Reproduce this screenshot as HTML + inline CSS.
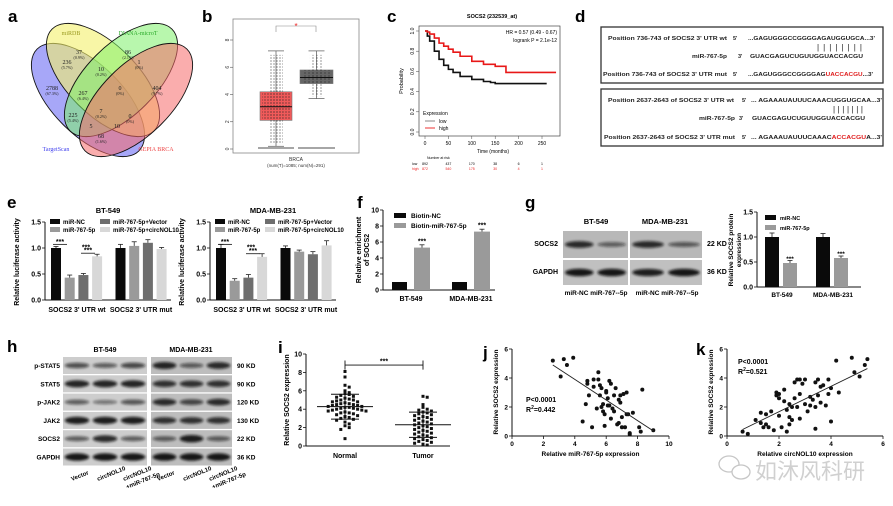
<!DOCTYPE html>
<html><head><meta charset="utf-8">
<style>
html,body{margin:0;padding:0;background:#fff;}
svg{display:block;font-family:"Liberation Sans",Arial,sans-serif;}
.b{font-weight:bold;}
</style></head>
<body>
<svg id="fig" width="893" height="506" viewBox="0 0 893 506" xmlns="http://www.w3.org/2000/svg">
<defs>
<filter id="blur1" x="-20%" y="-50%" width="140%" height="200%"><feGaussianBlur stdDeviation="1.2"/></filter>
<pattern id="dotsR" width="3" height="3" patternUnits="userSpaceOnUse"><circle cx="1" cy="1" r="0.6" fill="#222"/></pattern>
<pattern id="dotsG" width="4" height="3" patternUnits="userSpaceOnUse"><circle cx="1" cy="1" r="0.6" fill="#222"/></pattern>
</defs>
<!-- panel letters -->
<g class="b" font-size="17">
<text x="8" y="22">a</text>
<text x="202" y="22">b</text>
<text x="387" y="22">c</text>
<text x="575" y="22">d</text>
<text x="7" y="208">e</text>
<text x="357" y="208">f</text>
<text x="525" y="208">g</text>
<text x="7" y="352">h</text>
<text x="278" y="353">i</text>
<text x="483" y="358">j</text>
<text x="696" y="355">k</text>
</g>

<!-- Venn a -->
<g stroke="#111" stroke-width="0.9">
<ellipse cx="88" cy="100" rx="72" ry="35" transform="rotate(45 88 100)" fill="#8a8af5" fill-opacity="0.75"/>
<ellipse cx="103" cy="80" rx="72" ry="35" transform="rotate(45 103 80)" fill="#f4f06a" fill-opacity="0.6"/>
<ellipse cx="121" cy="80" rx="72" ry="35" transform="rotate(-45 121 80)" fill="#7df06a" fill-opacity="0.55"/>
<ellipse cx="136" cy="100" rx="72" ry="35" transform="rotate(-45 136 100)" fill="#f56a6a" fill-opacity="0.55"/>
</g>
<g font-family="Liberation Serif,serif" font-size="6" text-anchor="middle" fill="#222">
<text x="79" y="54">37</text><text x="79" y="59" font-size="4">(0.9%)</text>
<text x="128" y="54">86</text><text x="128" y="59" font-size="4">(2.1%)</text>
<text x="67" y="64">236</text><text x="67" y="69" font-size="4">(5.7%)</text>
<text x="101" y="71">10</text><text x="101" y="76" font-size="4">(0.2%)</text>
<text x="139" y="64">1</text><text x="139" y="69" font-size="4">(0%)</text>
<text x="52" y="90">2788</text><text x="52" y="95" font-size="4">(67.3%)</text>
<text x="83" y="95">267</text><text x="83" y="100" font-size="4">(6.4%)</text>
<text x="120" y="90">0</text><text x="120" y="95" font-size="4">(0%)</text>
<text x="157" y="90">404</text><text x="157" y="95" font-size="4">(9.7%)</text>
<text x="73" y="117">225</text><text x="73" y="122" font-size="4">(5.4%)</text>
<text x="101" y="113">7</text><text x="101" y="118" font-size="4">(0.2%)</text>
<text x="130" y="118">0</text><text x="130" y="123" font-size="4">(0%)</text>
<text x="91" y="128">5</text><text x="117" y="128">10</text>
<text x="101" y="138">68</text><text x="101" y="143" font-size="4">(1.6%)</text>
</g>
<g font-family="Liberation Serif,serif" font-size="6" text-anchor="middle">
<text x="71" y="35" fill="#9a9a20">miRDB</text>
<text x="138" y="35" fill="#2aaa2a">DIANA-microT</text>
<text x="56" y="151" fill="#4444ee">TargetScan</text>
<text x="156" y="151" fill="#ee4444">GEPIA BRCA</text>
</g>

<!-- panel d -->
<g font-size="5.5" class="b" fill="#222" lengthAdjust="spacingAndGlyphs">
<rect x="601" y="27" width="282" height="56" fill="none" stroke="#333" stroke-width="1.3"/>
<text x="608" y="40" textLength="119" lengthAdjust="spacingAndGlyphs">Position 736-743 of SOCS2 3' UTR wt</text>
<text x="733" y="40">5'</text>
<text x="748" y="40" textLength="127" lengthAdjust="spacingAndGlyphs">...GAGUGGGCCGGGGAGAUGGUGCA...3'</text>
<text x="817" y="50" font-size="8" font-weight="normal" textLength="45" lengthAdjust="spacing">||||||||</text>
<text x="692" y="58" textLength="35" lengthAdjust="spacingAndGlyphs">miR-767-5p</text>
<text x="738" y="58">3'</text>
<text x="750" y="58" textLength="113" lengthAdjust="spacingAndGlyphs">GUACGAGUCUGUUGGUACCACGU</text>
<text x="603" y="76" textLength="124" lengthAdjust="spacingAndGlyphs">Position 736-743 of SOCS2 3' UTR mut</text>
<text x="733" y="76">5'</text>
<text x="748" y="76" textLength="125" lengthAdjust="spacingAndGlyphs">...GAGUGGGCCGGGGAG<tspan fill="#e02020">UACCACGU</tspan>...3'</text>
<rect x="601" y="89" width="282" height="57" fill="none" stroke="#333" stroke-width="1.3"/>
<text x="608" y="102" textLength="126" lengthAdjust="spacingAndGlyphs">Position 2637-2643 of SOCS2 3' UTR wt</text>
<text x="742" y="102">5'</text>
<text x="751" y="102" textLength="131" lengthAdjust="spacingAndGlyphs">... AGAAAUAUUUCAAACUGGUGCAA...3'</text>
<text x="833" y="112" font-size="8" font-weight="normal" textLength="30" lengthAdjust="spacing">|||||||</text>
<text x="699" y="120" textLength="36" lengthAdjust="spacingAndGlyphs">miR-767-5p</text>
<text x="739" y="120">3'</text>
<text x="752" y="120" textLength="113" lengthAdjust="spacingAndGlyphs">GUACGAGUCUGUUGGUACCACGU</text>
<text x="604" y="139" textLength="131" lengthAdjust="spacingAndGlyphs">Position 2637-2643 of SOCS2 3' UTR mut</text>
<text x="742" y="139">5'</text>
<text x="751" y="139" textLength="131" lengthAdjust="spacingAndGlyphs">... AGAAAUAUUUCAAAC<tspan fill="#e02020">ACCACGU</tspan>A...3'</text>
</g>

<!-- watermark -->
<g opacity="0.55">
<ellipse cx="729" cy="464" rx="10" ry="8" fill="none" stroke="#999" stroke-width="1.3"/>
<ellipse cx="741" cy="472" rx="9" ry="7" fill="#fff" stroke="#999" stroke-width="1.3"/>
<text x="755" y="479" font-size="22" fill="#aaa" font-family="'Liberation Sans','Noto Sans CJK SC',sans-serif">如沐风科研</text>
</g>
</svg>

<script>
// ======= DATA =======
const bGroups = ["Tumor","Normal"];
const bStats = [[0.2,2.1,3.1,4.2,7.2],[3.7,4.8,5.25,5.8,7.2]];
const bTicks = [0,2,4,6,8];
const kmLowT = [0,5,10,20,30,40,50,60,75,100,125,140,150,175,200,260];
const kmLowS = [1.0,0.95,0.9,0.8,0.72,0.66,0.62,0.59,0.55,0.52,0.5,0.49,0.48,0.48,0.48,0.48];
const kmHighT = [0,5,10,20,30,40,50,60,75,100,125,150,172,173,200,280];
const kmHighS = [1.0,0.99,0.97,0.93,0.88,0.85,0.82,0.79,0.75,0.70,0.67,0.65,0.65,0.59,0.59,0.59];
const kmXTicks = [0,50,100,150,200,250];
const kmYTicks = [0.0,0.2,0.4,0.6,0.8,1.0];
const riskLow = [892,437,170,38,6,1];
const riskHigh = [872,540,175,30,4,1];
const eCats = ["SOCS2 3' UTR wt","SOCS2 3' UTR mut"];
const eSeries = ["miR-NC","miR-767-5p","miR-767-5p+Vector","miR-767-5p+circNOL10"];
const eBT = [[1.0,0.43,0.48,0.84],[1.0,1.04,1.1,0.98]];
const eBTErr = [[0.03,0.05,0.03,0.04],[0.07,0.08,0.06,0.03]];
const eMDA = [[1.0,0.37,0.43,0.83],[1.0,0.93,0.88,1.05]];
const eMDAErr = [[0.07,0.04,0.06,0.06],[0.04,0.03,0.05,0.09]];
const eTicks = [0.0,0.5,1.0,1.5];
const fCats = ["BT-549","MDA-MB-231"];
const fNC = [1.0,1.0];
const fMiR = [5.3,7.3];
const fMiRErr = [0.35,0.3];
const fTicks = [0,2,4,6,8,10];
const gCats = ["BT-549","MDA-MB-231"];
const gNC = [1.0,1.0];
const gNCErr = [0.08,0.07];
const gMiR = [0.48,0.58];
const gMiRErr = [0.05,0.04];
const gTicks = [0.0,0.5,1.0,1.5];
const hRows = ["p-STAT5","STAT5","p-JAK2","JAK2","SOCS2","GAPDH"];
const hKD = ["90 KD","90 KD","120 KD","130 KD","22 KD","36 KD"];
const hInt = [[0.6,0.5,0.65,0.9,0.5,0.85],[0.9,0.9,0.9,0.8,0.8,0.8],[0.5,0.35,0.55,0.85,0.65,0.85],[0.95,0.95,0.95,0.8,0.8,0.8],[0.5,0.85,0.5,0.5,0.95,0.5],[1,1,1,1,1,1]];
const iNormal = [8.1,7.5,6.6,6.4,6.0,5.8,5.7,5.6,5.5,5.4,5.3,5.2,5.1,5.0,5.0,4.9,4.8,4.8,4.7,4.6,4.6,4.5,4.5,4.4,4.4,4.3,4.3,4.2,4.2,4.1,4.1,4.0,4.0,3.9,3.9,3.8,3.8,3.7,3.6,3.6,3.5,3.4,3.3,3.2,3.1,3.0,2.9,2.8,2.6,2.4,2.2,2.0,1.8,0.8];
const iTumor = [5.4,5.3,4.5,4.2,4.0,3.9,3.8,3.7,3.6,3.5,3.4,3.3,3.2,3.1,3.0,2.9,2.8,2.7,2.6,2.5,2.4,2.3,2.2,2.1,2.0,1.9,1.8,1.7,1.6,1.5,1.4,1.3,1.2,1.1,1.0,0.9,0.8,0.7,0.6,0.5,0.4,0.3,0.2,0.1];
const iTicks = [0,2,4,6,8,10];
const jX = [2.6,3.1,3.3,3.5,3.9,4.5,4.7,4.8,4.8,4.9,5.1,5.2,5.2,5.4,5.5,5.5,5.6,5.6,5.7,5.7,5.8,5.8,5.9,5.9,6.0,6.0,6.1,6.1,6.2,6.2,6.3,6.3,6.4,6.5,6.5,6.6,6.7,6.8,6.8,6.9,6.9,7.0,7.0,7.1,7.2,7.3,7.3,7.4,7.5,7.5,7.7,8.1,8.3,8.2,9.0];
const jY = [5.2,4.1,5.3,4.9,5.4,1.0,2.2,3.8,3.6,2.8,0.6,3.9,3.4,1.9,4.4,3.9,3.5,2.8,3.3,2.0,1.7,2.2,1.5,0.7,3.1,3.0,2.6,2.1,3.8,2.1,1.2,3.6,1.9,2.8,1.7,3.3,0.8,2.5,0.9,2.8,2.3,1.3,0.6,2.9,0.6,1.5,3.0,1.5,0.2,0.1,1.6,0.6,3.2,0.3,0.4];
const jFit = [[2.6,4.9],[9.0,0.35]];
const jXTicks = [0,2,4,6,8,10];
const kX = [0.6,0.8,1.1,1.3,1.3,1.4,1.5,1.5,1.6,1.7,1.8,1.9,1.9,2.0,2.0,2.0,2.1,2.2,2.2,2.3,2.3,2.4,2.4,2.4,2.5,2.5,2.6,2.6,2.7,2.7,2.8,2.8,2.8,2.9,3.0,3.0,3.1,3.2,3.2,3.3,3.4,3.4,3.4,3.5,3.5,3.6,3.6,3.7,3.8,3.9,3.9,4.0,4.0,4.3,4.2,4.8,4.9,5.1,5.3,5.4];
const kY = [0.3,0.15,1.1,1.6,0.9,0.6,1.5,0.8,0.6,1.7,0.4,3.0,2.8,2.6,1.4,2.9,0.6,2.4,3.2,0.3,1.8,2.2,1.3,0.8,1.1,2.0,2.6,3.7,3.9,2.0,3.9,2.9,1.2,3.6,3.9,2.2,1.7,2.7,2.1,2.5,3.7,2.0,0.5,3.9,2.8,3.4,2.3,3.5,2.1,3.9,2.9,3.3,1.0,3.0,5.2,5.4,4.4,4.1,4.9,5.3];
const kFit = [[0.6,0.45],[5.4,4.65]];
const kXTicks = [0,2,4,6];
const sTicks = [0,2,4,6];

// ======= HELPERS =======
const NS = "http://www.w3.org/2000/svg";
const svg = document.getElementById('fig');
function mk(tag, a, parent){ const e=document.createElementNS(NS,tag); for(const k in a) e.setAttribute(k,a[k]); (parent||svg).appendChild(e); return e; }
function txt(x,y,s,a,parent){ const t=mk('text',Object.assign({x:x,y:y},a||{}),parent); t.textContent=s; return t; }
function lin(s0,s1,p0,p1){ return v=>p0+(v-s0)*(p1-p0)/(s1-s0); }

// ---- panel b ----
(function(){
  const g=mk('g',{});
  
  
  const y=lin(0,8,149,40);
  const fr=mk('rect',{x:233,y:19,width:126,height:134,fill:'none',stroke:'#888','stroke-width':0.8},g);
  
  
  bTicks.forEach(t=>{
    mk('line',{x1:230,x2:233,y1:y(t),y2:y(t),stroke:'#555','stroke-width':0.6},g);
    const l=txt(227,y(t)+2,String(t),{'font-size':5,'text-anchor':'middle',transform:`rotate(-90 227 ${y(t)})`,fill:'#333'},g);
    
    
  });
  const xs=[[260,292],[300,333]], cols=['#f05a5a','#666'];
  bStats.forEach((s,i)=>{
    const [x0,x1]=xs[i], xm=(x0+x1)/2;
    const c=mk('g',{},g);
    
    
    mk('line',{x1:xm,x2:xm,y1:y(s[4]),y2:y(s[0]),stroke:'#555','stroke-width':0.7},c);
    mk('line',{x1:xm-8,x2:xm+8,y1:y(s[4]),y2:y(s[4]),stroke:'#555','stroke-width':0.7},c);
    mk('line',{x1:xm-8,x2:xm+8,y1:y(s[0]),y2:y(s[0]),stroke:'#555','stroke-width':0.7},c);
    mk('rect',{x:x0,y:y(s[3]),width:x1-x0,height:y(s[1])-y(s[3]),fill:cols[i],stroke:'#777','stroke-width':0.6},c);
    mk('line',{x1:x0,x2:x1,y1:y(s[2]),y2:y(s[2]),stroke:'#111','stroke-width':1},c);
    mk('rect',{x:xm-7,y:y(s[4])+4,width:14,height:y(s[0])-y(s[4])-6,fill:i?'url(#dotsG)':'url(#dotsR)',opacity:0.8},c);
    mk('rect',{x:x0+2,y:y(s[3]),width:x1-x0-4,height:y(s[1])-y(s[3]),fill:i?'url(#dotsG)':'url(#dotsR)',opacity:0.9},c);
    mk('line',{x1:x0-2,x2:x1+2,y1:148,y2:148,stroke:'#888','stroke-width':1.5},c);
  });
  mk('path',{d:'M276 32 V26 H316 V32',fill:'none',stroke:'#888','stroke-width':0.6},g);
  txt(296,29,'*',{'font-size':8,fill:'#e22','text-anchor':'middle'},g);
  const xl=txt(296,161,'BRCA',{'font-size':5,'text-anchor':'middle',fill:'#333'},g);
  
  
  txt(296,167,'(num(T)=1085; num(N)=291)',{'font-size':4.5,'text-anchor':'middle',fill:'#333'},g);
})();

// ---- panel c ----
(function(){
  const g=mk('g',{});
  
  
  const x=lin(0,250,425,542), y=lin(0,1,132,31);
  const fr=mk('rect',{x:419,y:26,width:141,height:110,fill:'none',stroke:'#444','stroke-width':0.7},g);
  
  
  const t=txt(492,18,'SOCS2 (232539_at)',{'font-size':5.5,'font-weight':'bold','text-anchor':'middle'},g);
  
  
  kmYTicks.forEach(v=>{
    mk('line',{x1:416,x2:419,y1:y(v),y2:y(v),stroke:'#444','stroke-width':0.5},g);
    txt(412,y(v)+2,v.toFixed(1),{'font-size':5,'text-anchor':'middle',transform:`rotate(-90 412 ${y(v)})`},g);
  });
  kmXTicks.forEach(v=>{
    mk('line',{x1:x(v),x2:x(v),y1:136,y2:139,stroke:'#444','stroke-width':0.5},g);
    txt(x(v),145,String(v),{'font-size':5,'text-anchor':'middle'},g);
  });
  txt(493,153,'Time (months)',{'font-size':5,'text-anchor':'middle'},g);
  txt(403,81,'Probability',{'font-size':5.5,'text-anchor':'middle',transform:'rotate(-90 403 81)'},g);
  function step(T,S){ let d=`M${x(T[0])} ${y(S[0])}`; for(let i=1;i<T.length;i++){ d+=` H${x(T[i])} V${y(S[i])}`;} return d; }
  const pl=mk('path',{d:step(kmLowT,kmLowS),fill:'none',stroke:'#111','stroke-width':1.6},g);
  
  
  const ph=mk('path',{d:step(kmHighT,kmHighS),fill:'none',stroke:'#e81818','stroke-width':1.6},g);
  
  
  txt(557,34,'HR = 0.57 (0.49 - 0.67)',{'font-size':5,'text-anchor':'end'},g);
  txt(557,42,'logrank P = 2.1e-12',{'font-size':5,'text-anchor':'end'},g);
  const lg=mk('g',{},g);
  
  
  txt(423,115,'Expression',{'font-size':5},lg);
  mk('line',{x1:425,x2:435,y1:121,y2:121,stroke:'#888'},lg); txt(439,123,'low',{'font-size':5},lg);
  mk('line',{x1:425,x2:435,y1:128,y2:128,stroke:'#e33'},lg); txt(439,130,'high',{'font-size':5},lg);
  txt(427,159,'Number at risk',{'font-size':3.5},g);
  txt(412,165,'low',{'font-size':3.5},g); txt(412,170,'high',{'font-size':3.5,fill:'#e22'},g);
  kmXTicks.forEach((v,i)=>{ txt(x(v),165,String(riskLow[i]),{'font-size':3.5,'text-anchor':'middle'},g); txt(x(v),170,String(riskHigh[i]),{'font-size':3.5,'text-anchor':'middle',fill:'#e22'},g); });
})();

// ---- generic bar chart ----
const fills4=['#0a0a0a','#9a9a9a','#6e6e6e','#d8d8d8'];
function errBar(g,xc,top,errPx){ mk('line',{x1:xc,x2:xc,y1:top-errPx,y2:top,stroke:'#222','stroke-width':0.8},g); mk('line',{x1:xc-2.5,x2:xc+2.5,y1:top-errPx,y2:top-errPx,stroke:'#222','stroke-width':0.8},g); }
function yAxis(g,ax,y,ticks,fmt,x2){
  mk('line',{x1:ax,x2:ax,y1:y(ticks[ticks.length-1]),y2:y(ticks[0]),stroke:'#111','stroke-width':1},g);
  mk('line',{x1:ax,x2:x2,y1:y(ticks[0]),y2:y(ticks[0]),stroke:'#111','stroke-width':1},g);
  ticks.forEach(t=>{ mk('line',{x1:ax-3,x2:ax,y1:y(t),y2:y(t),stroke:'#111','stroke-width':0.8},g);
    const l=txt(ax-4,y(t)+2.5,fmt(t),{'font-size':7,'font-weight':'bold','text-anchor':'end'},g);
    
     });
}
function lucChart(name,ax,title,vals,errs){
  const g=mk('g',{});
  
  
  const y=lin(0,1.5,300,222);
  yAxis(g,ax,y,eTicks,t=>t.toFixed(1),ax+126);
  const tt=txt(ax+63,213,title,{'font-size':7.5,'font-weight':'bold','text-anchor':'middle'},g);
  
  
  const yl=txt(ax-26,262,'Relative luciferase activity',{'font-size':7,'font-weight':'bold','text-anchor':'middle',transform:`rotate(-90 ${ax-26} 262)`},g);
  
  
  vals.forEach((grp,gi)=>{
    grp.forEach((v,si)=>{
      const x0=ax+6+gi*64.5+si*13.7;
      const r=mk('rect',{x:x0,y:y(v),width:10,height:y(0)-y(v),fill:fills4[si]},g);
      
      
      errBar(g,x0+5,y(v),errs[gi][si]*52);
    });
    const lab=txt(ax+32+gi*64,312,eCats[gi],{'font-size':7,'font-weight':'bold','text-anchor':'middle'},g);
    
    
  });
  mk('line',{x1:ax+8,x2:ax+22,y1:y(1.07),y2:y(1.07),stroke:'#111','stroke-width':0.8},g);
  txt(ax+15,y(1.07)-0.5,'***',{'font-size':7,'font-weight':'bold','text-anchor':'middle'},g);
  txt(ax+41,y(0.97),'***',{'font-size':7,'font-weight':'bold','text-anchor':'middle'},g);
  mk('line',{x1:ax+36,x2:ax+50,y1:y(vals[0][3]+0.06),y2:y(vals[0][3]+0.06),stroke:'#111','stroke-width':0.8},g);
  txt(ax+43,y(vals[0][3]+0.06)-0.5,'***',{'font-size':7,'font-weight':'bold','text-anchor':'middle'},g);
  const lg=mk('g',{},g);
  
  
  eSeries.forEach((s,i)=>{
    const lx=ax+5+(i>1?50:0), ly=219+(i%2)*8;
    mk('rect',{x:lx,y:ly,width:10,height:5,fill:fills4[i]},lg);
    txt(lx+13,ly+5,s,{'font-size':6,'font-weight':'bold'},lg);
  });
}
lucChart('luciferase-bt549',45,'BT-549',eBT,eBTErr);
lucChart('luciferase-mda',210,'MDA-MB-231',eMDA,eMDAErr);

// ---- panel f ----
(function(){
  const g=mk('g',{});
  
  
  const y=lin(0,10,290,210), ax=383;
  yAxis(g,ax,y,fTicks,t=>String(t),ax+112);
  txt(ax-22,250,'Relative enrichment',{'font-size':7,'font-weight':'bold','text-anchor':'middle',transform:`rotate(-90 ${ax-22} 250)`},g);
  txt(ax-14,250,'of SOCS2',{'font-size':7,'font-weight':'bold','text-anchor':'middle',transform:`rotate(-90 ${ax-14} 250)`},g);
  fCats.forEach((c,i)=>{
    const gx=ax+9+i*60;
    const a=mk('rect',{x:gx,y:y(fNC[i]),width:15,height:y(0)-y(fNC[i]),fill:'#0a0a0a'},g);
    
    
    const b=mk('rect',{x:gx+22,y:y(fMiR[i]),width:16,height:y(0)-y(fMiR[i]),fill:'#9a9a9a'},g);
    
    
    errBar(g,gx+30,y(fMiR[i]),fMiRErr[i]*8);
    txt(gx+30,y(fMiR[i])-4,'***',{'font-size':7,'font-weight':'bold','text-anchor':'middle'},g);
    const l=txt(gx+19,301,c,{'font-size':7,'font-weight':'bold','text-anchor':'middle'},g);
    
    
  });
  mk('rect',{x:ax+11,y:213,width:12,height:5,fill:'#0a0a0a'},g); txt(ax+28,218,'Biotin-NC',{'font-size':6.5,'font-weight':'bold'},g);
  mk('rect',{x:ax+11,y:223,width:12,height:5,fill:'#9a9a9a'},g); txt(ax+28,228,'Biotin-miR-767-5p',{'font-size':6.5,'font-weight':'bold'},g);
})();

function blot(parent,x,yy,w,h,ints,bg){
  mk('rect',{x:x,y:yy,width:w,height:h,fill:bg||'#c4c4c4'},parent);
  const n=ints.length, lw=w/n;
  ints.forEach((v,i)=>{
    mk('ellipse',{cx:x+lw*(i+0.5),cy:yy+h/2,rx:lw*0.44,ry:1.2+2.6*v,fill:'#111','fill-opacity':0.25+0.7*v,filter:'url(#blur1)'},parent);
  });
}
// ---- panel g ----
(function(){
  const g=mk('g',{});
  
  
  txt(596,224,'BT-549',{'font-size':7.5,'font-weight':'bold','text-anchor':'middle'},g);
  txt(665,224,'MDA-MB-231',{'font-size':7.5,'font-weight':'bold','text-anchor':'middle'},g);
  blot(g,563,231,65,27,[0.85,0.45],'#b8b8b8'); blot(g,630,231,72,27,[0.85,0.5],'#b8b8b8');
  blot(g,563,260,65,25,[1,1],'#c0c0c0'); blot(g,630,260,72,25,[0.95,1],'#c0c0c0');
  txt(558,246,'SOCS2',{'font-size':7,'font-weight':'bold','text-anchor':'end'},g);
  txt(558,274,'GAPDH',{'font-size':7,'font-weight':'bold','text-anchor':'end'},g);
  txt(707,246,'22 KD',{'font-size':7,'font-weight':'bold'},g);
  txt(707,274,'36 KD',{'font-size':7,'font-weight':'bold'},g);
  txt(596,295,'miR-NC  miR-767--5p',{'font-size':6.5,'font-weight':'bold','text-anchor':'middle'},g);
  txt(667,295,'miR-NC  miR-767--5p',{'font-size':6.5,'font-weight':'bold','text-anchor':'middle'},g);
  const c=mk('g',{});
  
  
  const y=lin(0,1.5,287,212), ax=757;
  yAxis(c,ax,y,gTicks,t=>t.toFixed(1),ax+104);
  txt(ax-24,250,'Relative SOCS2 protein',{'font-size':6.5,'font-weight':'bold','text-anchor':'middle',transform:`rotate(-90 ${ax-24} 250)`},c);
  txt(ax-16,250,'expression',{'font-size':6.5,'font-weight':'bold','text-anchor':'middle',transform:`rotate(-90 ${ax-16} 250)`},c);
  gCats.forEach((cat,i)=>{
    const gx=ax+8+i*51;
    const a=mk('rect',{x:gx,y:y(gNC[i]),width:14,height:y(0)-y(gNC[i]),fill:'#0a0a0a'},c);
    
    
    errBar(c,gx+7,y(gNC[i]),gNCErr[i]*50);
    const b=mk('rect',{x:gx+18,y:y(gMiR[i]),width:14,height:y(0)-y(gMiR[i]),fill:'#9a9a9a'},c);
    
    
    errBar(c,gx+25,y(gMiR[i]),gMiRErr[i]*50);
    txt(gx+25,y(gMiR[i])-2,'***',{'font-size':6.5,'font-weight':'bold','text-anchor':'middle'},c);
    txt(gx+17,297,cat,{'font-size':6.5,'font-weight':'bold','text-anchor':'middle'},c);
  });
  mk('rect',{x:ax+8,y:215,width:11,height:5,fill:'#0a0a0a'},c); txt(ax+23,220,'miR-NC',{'font-size':5.5,'font-weight':'bold'},c);
  mk('rect',{x:ax+8,y:225,width:11,height:5,fill:'#9a9a9a'},c); txt(ax+23,230,'miR-767-5p',{'font-size':5.5,'font-weight':'bold'},c);
})();

// ---- panel h ----
(function(){
  const g=mk('g',{});
  
  
  txt(105,352,'BT-549',{'font-size':7,'font-weight':'bold','text-anchor':'middle'},g);
  txt(191,352,'MDA-MB-231',{'font-size':7,'font-weight':'bold','text-anchor':'middle'},g);
  hRows.forEach((r,i)=>{
    const yy=357+i*18.3;
    const v=hInt[i];
    blot(g,63,yy,84,17,v.slice(0,3),'#cdcdcd');
    blot(g,151,yy,81,17,v.slice(3),'#bdbdbd');
    const l=txt(60,yy+11,r,{'font-size':6.5,'font-weight':'bold','text-anchor':'end'},g);
    
    
    txt(237,yy+11,hKD[i],{'font-size':6.5,'font-weight':'bold'},g);
  });
  const labs=[['Vector'],['circNOL10'],['circNOL10','+miR-767-5p']];
  [0,1].forEach(side=>{
    labs.forEach((l,j)=>{
      const x=(side?158:72)+j*26, y0=481;
      l.forEach((s,k)=>{ txt(x+k*3,y0+k*8,s,{'font-size':6,'font-weight':'bold',transform:`rotate(-22 ${x+k*3} ${y0+k*8})`},g); });
    });
  });
})();

// ---- panel i ----
(function(){
  const g=mk('g',{});
  
  
  const y=lin(0,10,446,354), ax=306;
  yAxis(g,ax,y,iTicks,t=>String(t),450);
  txt(289,400,'Relative SOCS2 expression',{'font-size':7,'font-weight':'bold','text-anchor':'middle',transform:'rotate(-90 289 400)'},g);
  [[iNormal,345,'Normal'],[iTumor,423,'Tumor']].forEach(([arr,cx,name])=>{
    const counts={};
    arr.forEach((v,i)=>{
      const bin=Math.round(v*2); counts[bin]=(counts[bin]||0)+1;
      const k=counts[bin]-1, off=(k%2?1:-1)*Math.ceil(k/2)*4.2;
      const p=mk('rect',{x:cx+off-1.5,y:y(v)-1.5,width:3,height:3,fill:'#111'},g);
      
      
    });
    const m=arr.reduce((a,b)=>a+b,0)/arr.length;
    const sd=Math.sqrt(arr.reduce((a,b)=>a+(b-m)*(b-m),0)/arr.length);
    mk('line',{x1:cx-28,x2:cx+28,y1:y(m),y2:y(m),stroke:'#111','stroke-width':1},g);
    mk('line',{x1:cx-14,x2:cx+14,y1:y(m+sd),y2:y(m+sd),stroke:'#111','stroke-width':1},g);
    mk('line',{x1:cx-14,x2:cx+14,y1:y(m-sd),y2:y(m-sd),stroke:'#111','stroke-width':1},g);
    mk('line',{x1:cx,x2:cx,y1:y(m+sd),y2:y(m-sd),stroke:'#111','stroke-width':1},g);
    txt(cx,458,name,{'font-size':7,'font-weight':'bold','text-anchor':'middle'},g);
  });
  mk('path',{d:`M345 ${y(9.3)} V${y(8.3)} M423 ${y(9.3)} V${y(8.3)} M345 ${y(8.8)} H423`,fill:'none',stroke:'#111','stroke-width':0.9},g);
  txt(384,y(8.8)-1.5,'***',{'font-size':7,'font-weight':'bold','text-anchor':'middle'},g);
})();

function scat(name,x0,x1,dx0,dx1,xt,X,Y,fit,xlabel,ptxt,ptx,pty){
  const g=mk('g',{});
  
  
  const x=lin(dx0,dx1,x0,x1), y=lin(0,6,436,349);
  mk('line',{x1:x0,x2:x0,y1:349,y2:436,stroke:'#111','stroke-width':1},g);
  mk('line',{x1:x0,x2:x1,y1:436,y2:436,stroke:'#111','stroke-width':1},g);
  sTicks.forEach(t=>{ mk('line',{x1:x0-3,x2:x0,y1:y(t),y2:y(t),stroke:'#111','stroke-width':0.8},g); txt(x0-4,y(t)+2.5,String(t),{'font-size':6.5,'font-weight':'bold','text-anchor':'end'},g); });
  xt.forEach(t=>{ mk('line',{x1:x(t),x2:x(t),y1:436,y2:439,stroke:'#111','stroke-width':0.8},g); txt(x(t),446,String(t),{'font-size':6.5,'font-weight':'bold','text-anchor':'middle'},g); });
  txt(x0-14,392,'Relative SOCS2 expression',{'font-size':6.5,'font-weight':'bold','text-anchor':'middle',transform:`rotate(-90 ${x0-14} 392)`},g);
  txt((x0+x1)/2,456,xlabel,{'font-size':6.5,'font-weight':'bold','text-anchor':'middle'},g);
  X.forEach((v,i)=>{
    const c=mk('circle',{cx:x(v),cy:y(Y[i]),r:2,fill:'#111'},g);
    
    
  });
  const fl=mk('line',{x1:x(fit[0][0]),y1:y(fit[0][1]),x2:x(fit[1][0]),y2:y(fit[1][1]),stroke:'#222','stroke-width':0.9},g);
  
  
  txt(ptx,pty,'P<0.0001',{'font-size':7,'font-weight':'bold'},g);
  const r=txt(ptx,pty+10,'R',{'font-size':7,'font-weight':'bold'},g);
  const sup=mk('tspan',{dy:-3,'font-size':5},r); sup.textContent='2';
  const rest=mk('tspan',{dy:3},r); rest.textContent=ptxt;
}
scat('scatter-mir767',512,669,0,10,jXTicks,jX,jY,jFit,'Relative miR-767-5p expression','=0.442',526,402);
scat('scatter-circnol10',727,883,0,6,kXTicks,kX,kY,kFit,'Relative circNOL10 expression','=0.521',738,364);
</script>
</body></html>
